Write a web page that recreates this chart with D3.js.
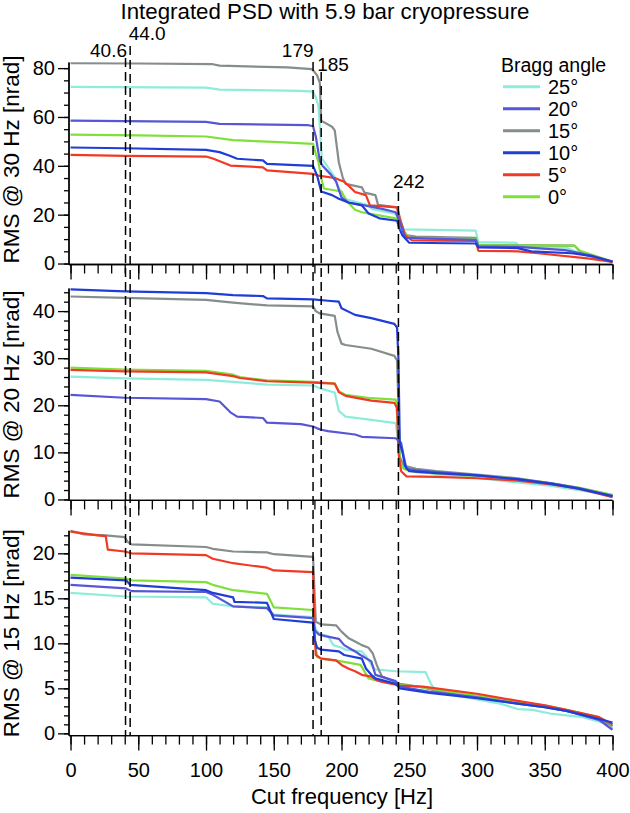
<!DOCTYPE html>
<html><head><meta charset="utf-8">
<script src="https://cdn.jsdelivr.net/npm/d3@7"></script>
<style>
body{margin:0;background:#fff}
svg{display:block}
text{font-family:"Liberation Sans", Arial, Helvetica, sans-serif; fill:#000}
</style>
</head><body>
<svg id="chart" width="630" height="813"></svg>
<script>
// ---------------- data ----------------
const chartTitle = "Integrated PSD with 5.9 bar cryopressure";
const xTitle = "Cut frequency [Hz]";
const legendTitle = "Bragg angle";
const angles = ["25°", "20°", "15°", "10°", "5°", "0°"];
const colors = ["#8eecda", "#5656d6", "#868d8d", "#1f3ed8", "#f03a24", "#7fe03c"];
const cutMarks = [40.6, 44.0, 179, 185, 242];
const cutLabels = ["40.6", "44.0", "179", "185", "242"];
const xMajorTicks = [0, 50, 100, 150, 200, 250, 300, 350, 400];
const yTicks30 = [0, 20, 40, 60, 80];
const yTicks20 = [0, 10, 20, 30, 40];
const yTicks15 = [0, 5, 10, 15, 20];
const panelTitles = ["RMS @ 30 Hz [nrad]", "RMS @ 20 Hz [nrad]", "RMS @ 15 Hz [nrad]"];

// RMS @ 30 Hz  [cut frequency Hz, nrad]
const rms30_a25 = [[0,72.3],[100,72],[110,71.2],[170,70.7],[179,70.4],[181,68],[183,64.5],[185.5,43],[190,39.5],[195,35.5],[198,31],[202,26.5],[220,23.8],[222,22.4],[240,20.3],[243,17],[246,14],[299,13.5],[301,8.8],[329,8.5],[331,6.8],[366,6.5],[378,3.8],[400,0.7]];
const rms30_a20 = [[0,58.5],[100,58],[110,57.2],[175,56.7],[179,56.2],[181,52],[184,42],[186,40],[192,36.5],[196,33.5],[200,27],[205,25],[215,24],[230,22.4],[240,21],[243,17],[247,10.5],[299,9.7],[301,7],[330,6.8],[365,5.5],[385,3.2],[400,0.8]];
const rms30_a15 = [[0,82],[50,81.9],[105,81.6],[110,81],[160,80.3],[178,79.6],[180,78.5],[182,77],[184,74],[185,58.5],[193,56],[195,54.5],[198,41.5],[201,35],[203,32.6],[215,31.2],[217,29],[225,28],[227,24],[241,23],[244,17],[247,11.6],[255,11],[299,10.5],[301,7.6],[372,7.3],[378,3.8],[400,0.7]];
const rms30_a10 = [[0,47.5],[40,47.2],[100,46.5],[110,45.6],[118,44],[123,42.9],[142,42.2],[145,40.8],[179,40],[182,36],[185,29.5],[193,28],[198,26.5],[205,25],[215,23.8],[220,20.5],[228,18.5],[241,17.5],[243,14],[245,11.5],[250,8.5],[299,8.2],[301,6.6],[330,6.3],[340,5],[370,4.2],[385,3],[400,0.7]];
const rms30_a5 = [[0,44.5],[40,44.1],[100,43.8],[105,43],[112,41.5],[118,40.1],[142,39.4],[145,38.1],[179,36.7],[183,36],[195,35],[202,33.5],[205,32],[210,29.3],[218,28],[221,23.8],[241,23],[243,18],[247,11.6],[252,9.5],[299,9.3],[301,5.2],[330,5],[345,4.2],[383,2],[400,0.7]];
const rms30_a0 = [[0,52.8],[50,52.5],[100,52],[120,50.5],[150,49.8],[179,49],[181,45],[183,41.5],[185,35],[187,30.7],[200,29.5],[204,25.5],[210,22],[215,21],[240,18.5],[243,16],[247,12.5],[250,10.5],[299,10],[301,7.5],[372,7.3],[376,5.2],[400,0.8]];

// RMS @ 20 Hz
const rms20_a25 = [[0,26.1],[40,25.7],[100,25.4],[145,24.4],[179,24.2],[184,23.6],[195,22.7],[198,18.8],[203,17.6],[222,16.9],[240,16.2],[242,12],[243,8.8],[246,7],[255,6.2],[270,5.3],[300,4.6],[330,3.6],[355,2.9],[375,2.0],[400,0.9]];
const rms20_a20 = [[0,22.2],[40,21.6],[100,21.3],[110,20.8],[118,18.5],[123,17.6],[142,17.3],[145,16.3],[170,16],[179,15.5],[182,15.1],[185,14.8],[190,14.5],[210,13.8],[215,13.3],[240,13],[242,12.5],[244,12],[246,9],[248,6.5],[255,6.2],[270,5.8],[300,5.1],[330,4.3],[355,3.4],[375,2.4],[400,0.7]];
const rms20_a15 = [[0,43.1],[40,42.8],[100,42.4],[120,41.8],[145,41.2],[179,41],[181,40],[184,39.5],[195,39],[197,35.6],[200,33.1],[203,32.8],[222,32],[239,30.5],[241,29.5],[242,20],[243,9],[246,7.2],[255,6.5],[270,6.0],[300,5.3],[330,4.5],[355,3.4],[375,2.4],[400,0.9]];
const rms20_a10 = [[0,44.6],[40,44.2],[100,43.8],[120,43.4],[142,43.2],[145,42.7],[179,42.5],[190,42.2],[198,42],[200,40.6],[210,39.2],[222,38.5],[239,37.3],[241,36.5],[242,30],[243,12],[245,10],[247,7],[250,6],[270,5.6],[300,5.1],[330,4.3],[355,3.3],[375,2.3],[400,0.7]];
const rms20_a5 = [[0,27.5],[40,27.2],[100,27],[120,26.2],[125,25.8],[145,25.1],[179,24.8],[195,24.6],[198,22.8],[203,22],[222,21],[239,20.5],[241,19.5],[242,10],[244,6],[248,4.9],[270,4.8],[300,4.5],[330,4.0],[355,3.2],[375,2.3],[400,0.5]];
const rms20_a0 = [[0,28],[40,27.6],[100,27.3],[120,26.5],[125,26],[145,25.3],[179,25],[195,24.6],[198,23],[203,22.2],[222,21.5],[240,21.2],[242,15],[243,8],[246,6.5],[255,5.8],[300,5.0],[330,4.4],[355,3.4],[375,2.5],[400,1.0]];

// RMS @ 15 Hz
const rms15_a25 = [[0,15.6],[41,15.2],[100,15.1],[105,14.4],[120,14.1],[145,14],[150,13.2],[179,12.9],[180,12],[182,11.3],[185,11],[190,10.8],[194,9.8],[200,9.5],[203,9.3],[215,9.1],[218,8.6],[222,7.6],[225,7.1],[240,6.9],[262,6.8],[266,5.5],[270,4.6],[292,4.0],[317,3.3],[330,2.7],[341,2.6],[354,2.2],[378,1.8],[398,1.0],[400,0.6]];
const rms15_a20 = [[0,16.5],[41,16.1],[45,15.8],[100,15.7],[105,15.4],[120,14.1],[145,13.9],[150,13.1],[179,12.8],[180,11.5],[183,11],[188,10.8],[198,10.5],[202,9.8],[210,9.1],[214,8.7],[222,8],[225,6.5],[240,5.8],[243,5.2],[265,4.6],[300,4.0],[330,3.3],[350,2.9],[366,2.5],[390,1.5],[400,0.4]];
const rms15_a15 = [[0,22.5],[10,22.1],[26,22],[40,21.8],[42,21.3],[45,21],[100,20.7],[105,20.5],[120,20.2],[145,20.1],[150,19.9],[179,19.6],[180,16],[181,12.4],[185,12.1],[196,12],[200,11.3],[205,10.6],[210,10.2],[215,9.8],[220,9.5],[223,8.9],[226,7.6],[228,6.9],[230,6.3],[240,5.7],[243,5.5],[260,5.1],[270,4.7],[300,4.0],[330,3.4],[350,3.0],[366,2.5],[390,1.6],[400,0.8]];
const rms15_a10 = [[0,17.3],[41,17],[44,16.5],[100,15.9],[105,15.6],[120,15.1],[121,14.6],[145,14.5],[150,12.7],[179,12.3],[180,10.5],[182,9.5],[185,9.3],[198,9.1],[202,8.7],[215,8.3],[218,7.2],[222,6.5],[225,6.1],[240,5.5],[243,5.0],[265,4.5],[300,3.9],[330,3.3],[350,2.9],[366,2.5],[390,1.6],[400,1.2]];
const rms15_a5 = [[0,22.4],[20,22],[26,21.9],[27.5,20.4],[40,20.2],[45,20],[100,19.8],[105,19.4],[120,18.9],[130,18.7],[145,18.4],[150,18.1],[179,17.9],[180,12],[181,8.7],[185,8.3],[196,8.1],[200,7.6],[205,7.2],[210,6.9],[215,6.5],[222,6.3],[226,5.9],[230,5.7],[240,5.4],[243,5.3],[260,5.2],[300,4.4],[330,3.6],[350,3.1],[366,2.6],[390,1.8],[400,1.0]];
const rms15_a0 = [[0,17.6],[41,17.2],[45,17],[100,16.8],[105,16.5],[120,15.9],[145,15.5],[150,14],[179,13.7],[180,10.6],[182,8.5],[185,8.3],[200,8],[214,7.6],[220,6.1],[225,5.9],[240,5.5],[243,5.4],[260,5.1],[300,4.2],[330,3.5],[350,3.1],[366,2.6],[390,1.8],[400,1.0]];

// ---------------- layout ----------------
const svg = d3.select("#chart");
const FONT = '"Liberation Sans", Arial, Helvetica, sans-serif';
const x = d3.scaleLinear().domain([-1.2, 400]).range([68.9, 612.5]);

const panels = [
  {title: panelTitles[0], ticks: yTicks30, minor: 5, domain: [-0.4, 82.3], range: [264.5, 62.5],
   series: [rms30_a25, rms30_a20, rms30_a15, rms30_a10, rms30_a5, rms30_a0]},
  {title: panelTitles[1], ticks: yTicks20, minor: 2, domain: [-0.2, 44.8], range: [500.4, 288.5],
   series: [rms20_a25, rms20_a20, rms20_a15, rms20_a10, rms20_a5, rms20_a0]},
  {title: panelTitles[2], ticks: yTicks15, minor: 1, domain: [-0.25, 22.5], range: [735.6, 530.8],
   series: [rms15_a25, rms15_a20, rms15_a15, rms15_a10, rms15_a5, rms15_a0]}
];
const drawOrder = [0, 2, 5, 4, 1, 3];

panels.forEach((p, pi) => {
  const y = d3.scaleLinear().domain(p.domain).range(p.range);
  const g = svg.append("g");
  const line = d3.line().x(d => x(d[0])).y(d => y(d[1]));

  drawOrder.forEach(si => {
    g.append("path").datum(p.series[si])
      .attr("d", line).attr("fill", "none")
      .attr("stroke", colors[si]).attr("stroke-width", 2.2)
      .attr("stroke-linejoin", "round");
  });

  // y axis: minor + major
  const yMinor = d3.range(p.ticks[0], p.domain[1], p.minor);
  const ya1 = g.append("g").attr("transform", "translate(69,0)")
    .call(d3.axisLeft(y).tickValues(yMinor).tickSize(5).tickFormat(""));
  const ya2 = g.append("g").attr("transform", "translate(69,0)")
    .call(d3.axisLeft(y).tickValues(p.ticks).tickSize(11).tickPadding(3).tickFormat(d3.format("d")));
  [ya1, ya2].forEach(a => {
    a.select(".domain").attr("d", `M0,${p.range[0]}V${p.range[1]}`);
    a.selectAll("path,line").attr("stroke", "#000").attr("stroke-width", 1.3);
    a.selectAll("text").attr("font-size", 20).attr("font-family", FONT).attr("fill", "#000");
  });

  // x axis: minor + major
  const yb = p.range[0];
  const xa1 = g.append("g").attr("transform", `translate(0,${yb})`)
    .call(d3.axisBottom(x).tickValues(d3.range(0, 401, 10)).tickSize(9).tickFormat(""));
  const xa2 = g.append("g").attr("transform", `translate(0,${yb})`)
    .call(d3.axisBottom(x).tickValues(xMajorTicks).tickSize(15).tickPadding(12)
      .tickFormat(pi === 2 ? d3.format("d") : ""));
  [xa1, xa2].forEach(a => {
    a.select(".domain").attr("d", `M${x.range()[0]},0H${x.range()[1]}`);
    a.selectAll("path,line").attr("stroke", "#000").attr("stroke-width", 1.3);
    a.selectAll("text").attr("font-size", 20).attr("font-family", FONT).attr("fill", "#000");
  });

  // y title
  const cy = (p.range[0] + p.range[1]) / 2 - (pi === 0 ? 4 : 0);
  svg.append("text").attr("transform", `translate(19,${cy}) rotate(-90)`)
    .attr("text-anchor", "middle").attr("font-size", 22.5).text(p.title);
});

// dashed cut-frequency markers
const markTop = [58, 46, 62, 72, 192];
const labelPos = [
  {dx: 1.5, y: 57, anchor: "end"},
  {dx: -1.5, y: 40, anchor: "start"},
  {dx: 0.5, y: 56.5, anchor: "end"},
  {dx: -4, y: 71, anchor: "start"},
  {dx: -5.5, y: 188, anchor: "start"}
];
cutMarks.forEach((c, i) => {
  svg.append("line").attr("x1", x(c)).attr("x2", x(c))
    .attr("y1", markTop[i]).attr("y2", 735.6)
    .attr("stroke", "#000").attr("stroke-width", 1.5).attr("stroke-dasharray", "9,5");
  svg.append("text").attr("x", x(c) + labelPos[i].dx).attr("y", labelPos[i].y)
    .attr("text-anchor", labelPos[i].anchor).attr("font-size", 19).text(cutLabels[i]);
});

// titles
svg.append("text").attr("x", 325).attr("y", 19).attr("text-anchor", "middle")
  .attr("font-size", 22.3).text(chartTitle);
svg.append("text").attr("x", 342).attr("y", 804).attr("text-anchor", "middle")
  .attr("font-size", 22).text(xTitle);

// legend
const lg = svg.append("g");
lg.append("text").attr("x", 501).attr("y", 72).attr("font-size", 19.5).text(legendTitle);
angles.forEach((a, i) => {
  const cy = 86.7 + i * 22;
  lg.append("line").attr("x1", 503).attr("x2", 540).attr("y1", cy).attr("y2", cy)
    .attr("stroke", colors[i]).attr("stroke-width", 3);
  lg.append("text").attr("x", 548).attr("y", cy + 7).attr("font-size", 20).text(a);
});
</script>
</body></html>
